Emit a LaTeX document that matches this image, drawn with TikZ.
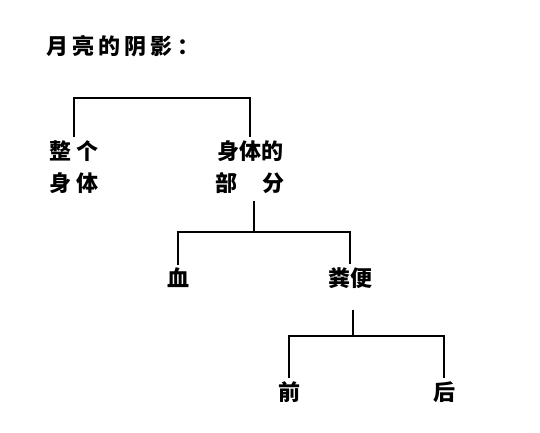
\documentclass[tikz,border=0pt]{standalone}
\usepackage{fontspec}
\newfontfamily\cjk{Noto Sans CJK SC}
\begin{document}
\begin{tikzpicture}[x=1pt,y=-1pt,
  lbl/.style={font=\cjk\bfseries\fontsize{22}{32}\selectfont, inner sep=3pt, align=center},
  ttl/.style={font=\cjk\bfseries\fontsize{22}{24}\selectfont, inner sep=0pt},
  conn/.style={line width=1.4pt}]
\useasboundingbox (0,0) rectangle (540,432);
\fill[white] (0,0) rectangle (540,432);
\node[ttl, anchor=west] (title) at (46,46) {月\kern4pt 亮\kern4pt 的\kern4pt 阴\kern4pt 影\kern5pt ：};
\node[lbl] (whole) at (74,167) {整\kern6pt 个\\身\kern6pt 体};
\node[lbl] (part) at (250,167) {身体的\\部\hspace{1.1em}分};
\node[lbl] (blood) at (178,278) {血};
\node[lbl] (feces) at (350,278) {粪便};
\node[lbl] (front) at (289,392) {前};
\node[lbl] (back) at (444,392) {后};
\coordinate (j1) at (160,98);
\coordinate (j2) at (254,232);
\coordinate (j3) at (353,336);
\draw[conn] (whole.north) |- (j1) -| (part.north);
\draw[conn] ([yshift=-4pt]part.south -| j2) -- (j2);
\draw[conn] (blood.north) |- (j2) -| (feces.north);
\draw[conn] ([yshift=-18pt]feces.south -| j3) -- (j3);
\draw[conn] (front.north) |- (j3) -| (back.north);
\end{tikzpicture}
\end{document}
